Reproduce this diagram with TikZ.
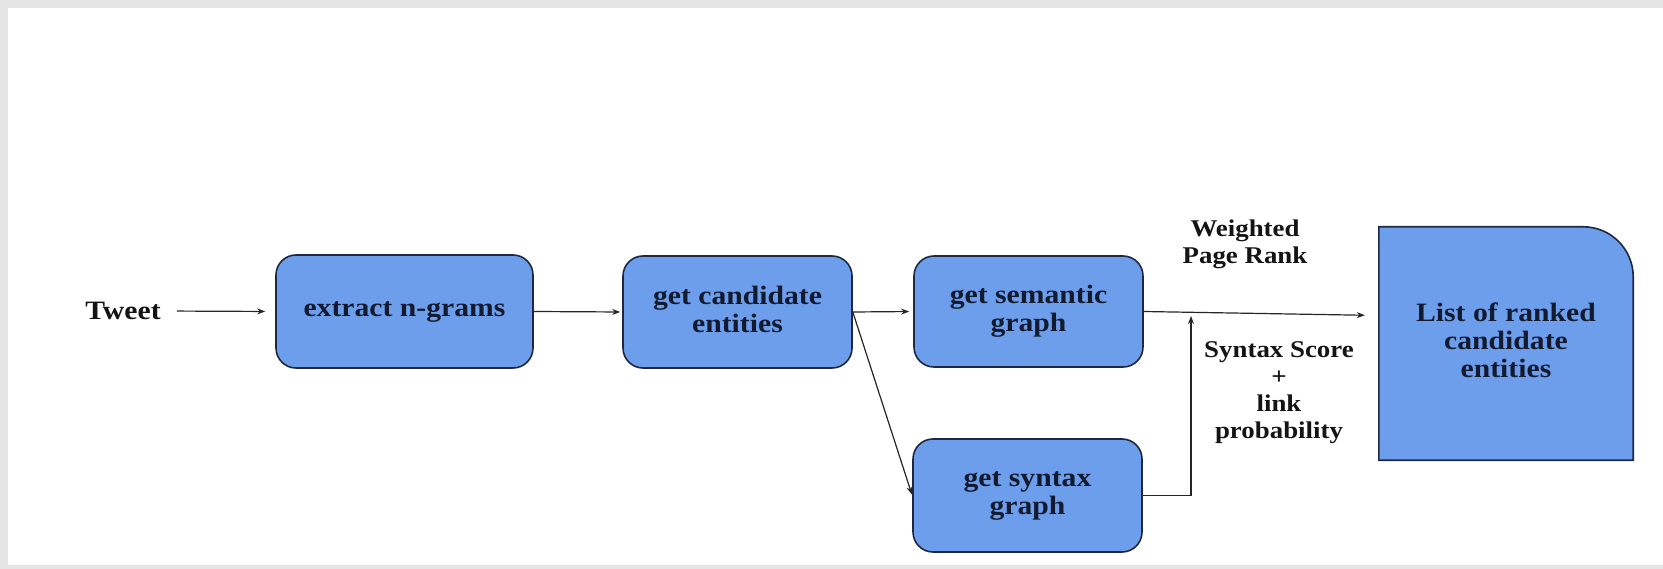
\documentclass[tikz,border=0pt]{standalone}
\usepackage{fontspec}
\setmainfont{Liberation Serif}[FakeStretch=1.12]
\usetikzlibrary{arrows.meta}
\definecolor{boxfill}{RGB}{109,158,235}
\definecolor{boxdraw}{RGB}{30,40,66}
\definecolor{txt}{RGB}{18,26,48}
\definecolor{framegray}{RGB}{229,229,229}
\tikzset{
  proc/.style={draw=boxdraw, fill=boxfill, line width=1.6pt, rounded corners=20pt,
    align=center, inner sep=0pt, text=txt,
    font=\fontsize{26.5}{28}\selectfont\bfseries},
  lbl/.style={align=center, text=black!92, inner sep=0pt,
    font=\fontsize{24}{27}\selectfont\bfseries},
  conn/.style={line width=1.2pt, draw=black!85, -{Stealth[length=8pt,width=6pt]}},
}
\begin{document}
\begin{tikzpicture}[x=1pt,y=1pt]
  % background and light frame
  \fill[framegray] (0,0) rectangle (1663,-569);
  \fill[white] (8,-8) rectangle (1663,-565);
  \useasboundingbox (0,0) rectangle (1663,-569);

  \node[lbl, font=\fontsize{26.5}{28}\selectfont\bfseries] (tweet) at (123,-311) {Tweet};
  \node[proc, minimum width=257pt, minimum height=113pt] (extract) at (404.5,-311.5) {extract n-grams};
  \node[proc, minimum width=229pt, minimum height=112pt] (cand) at (737.5,-312) {get candidate\\entities\vphantom{g}};
  \node[proc, minimum width=229pt, minimum height=111pt] (sem) at (1028.5,-311.5) {get semantic\\graph};
  \node[proc, minimum width=229pt, minimum height=113pt] (syn) at (1027.5,-495.5) {get syntax\\graph};

  % list box with one rounded corner
  \node[minimum width=254pt, minimum height=233pt, inner sep=0pt] (list) at (1506,-343.5) {};
  \draw[draw=boxdraw, fill=boxfill, line width=1.6pt]
    (list.south west) -- (list.north west) -- ([xshift=-50pt]list.north east)
    arc[start angle=90, end angle=0, radius=50pt] -- (list.south east) -- cycle;
  \node[align=center, text=txt, inner sep=0pt, font=\fontsize{26.5}{28}\selectfont\bfseries]
    (listtext) at (list.center) {List of ranked\\candidate\\entities\vphantom{g}};

  \node[lbl] (wpr) at (1245,-244) {Weighted\\Page Rank};
  \node[lbl] (sslp) at (1279,-393) {Syntax Score\\+\\link\\probability};

  \coordinate (j) at (1191,-313);

  \draw[conn, shorten <=16pt, shorten >=10pt] (tweet.east) -- (extract.west);
  \draw[conn, shorten >=2pt] (extract.east) -- (cand.west);
  \draw[conn, shorten >=4pt] (cand.east) -- (sem.west);
  \draw[conn, shorten >=1pt] (cand.east) -- (syn.west);
  \draw[conn, shorten >=14pt] (sem.east) -- ([yshift=-4pt]sem.east -| list.west);
  \draw[conn, shorten >=3pt] (syn.east) -| (j);
\end{tikzpicture}
\end{document}
